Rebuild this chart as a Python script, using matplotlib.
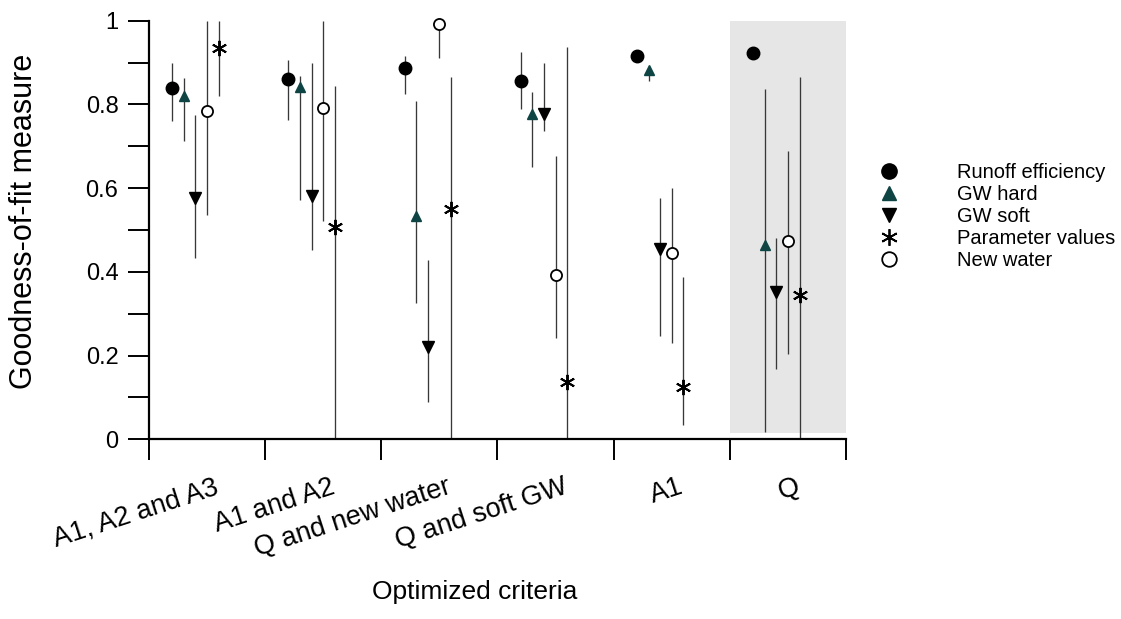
import matplotlib
matplotlib.use("Agg")
import matplotlib.pyplot as plt
import matplotlib.transforms as mtransforms
from matplotlib.lines import Line2D
import numpy as np

plt.rcParams['font.family'] = ['Liberation Sans', 'DejaVu Sans']

categories = ["A1, A2 and A3", "A1 and A2", "Q and new water", "Q and soft GW", "A1", "Q"]

# value, lower and upper end of the range for each criterion
runoff = [0.84, 0.86, 0.886, 0.856, 0.916, 0.922]
runoff_lo = [0.76, 0.763, 0.824, 0.788, 0.916, 0.922]
runoff_hi = [0.90, 0.906, 0.916, 0.926, 0.916, 0.922]

gw_hard = [0.82, 0.841, 0.534, 0.777, 0.882, 0.464]
gw_hard_lo = [0.713, 0.572, 0.326, 0.651, 0.857, 0.018]
gw_hard_hi = [0.862, 0.869, 0.808, 0.83, 0.882, 0.837]

gw_soft = [0.577, 0.582, 0.22, 0.776, 0.454, 0.353]
gw_soft_lo = [0.432, 0.453, 0.09, 0.737, 0.247, 0.168]
gw_soft_hi = [0.774, 0.898, 0.428, 0.9, 0.576, 0.48]

new_water = [0.784, 0.791, 0.991, 0.393, 0.444, 0.474]
new_water_lo = [0.536, 0.522, 0.91, 0.243, 0.229, 0.203]
new_water_hi = [1.0, 1.0, 1.0, 0.677, 0.6, 0.689]

params = [0.935, 0.508, 0.55, 0.136, 0.126, 0.345]
params_lo = [0.819, 0.0, 0.0, 0.0, 0.034, 0.0]
params_hi = [1.0, 0.845, 0.865, 0.937, 0.388, 0.865]

teal = '#0e4443'
star = (6, 2, 0)

fig = plt.figure(figsize=(11.21, 6.19), dpi=100)
ax = fig.add_axes([0.1329, 0.2903, 0.6218, 0.6763])

centers = np.arange(len(categories)) + 0.5

# grey box behind the last group
ax.axvspan(5, 6, ymin=0.015, ymax=1, color='#e6e6e6', lw=0, zorder=0)

series = [
    (runoff, runoff_lo, runoff_hi, -0.3, dict(marker='o', ms=9, mfc='black', mec='black')),
    (gw_hard, gw_hard_lo, gw_hard_hi, -0.2, dict(marker='^', ms=7.5, mfc=teal, mec=teal)),
    (gw_soft, gw_soft_lo, gw_soft_hi, -0.1, dict(marker='v', ms=8.5, mfc='black', mec='black')),
    (new_water, new_water_lo, new_water_hi, 0.0, dict(marker='o', ms=8, mfc='white', mec='black', mew=1.3)),
    (params, params_lo, params_hi, 0.1, dict(marker=star, ms=11, mfc='black', mec='black', mew=1.4)),
]

for vals, lo, hi, off, style in series:
    vals = np.array(vals)
    yerr = [vals - np.array(lo), np.array(hi) - vals]
    ax.errorbar(centers + off, vals, yerr=yerr, fmt='none', ecolor='#383838',
                elinewidth=0.95, capsize=0, zorder=2, clip_on=False)
    ax.plot(centers + off, vals, ls='none', zorder=3, clip_on=False, **style)

ax.set_xlim(0, 6)
ax.set_ylim(0, 1)

for s in ['top', 'right']:
    ax.spines[s].set_visible(False)
for s in ['left', 'bottom']:
    ax.spines[s].set_linewidth(1.6)

ax.set_yticks([0, 0.2, 0.4, 0.6, 0.8, 1.0])
ax.set_yticklabels(['0', '0.2', '0.4', '0.6', '0.8', '1'])
ax.set_yticks(np.arange(0.1, 1.0, 0.2), minor=True)
ax.tick_params(axis='y', which='both', direction='out', length=15, width=1.4,
               labelsize=17, pad=7)

ax.set_xticks(np.arange(0, 7))
ax.set_xticklabels([])
ax.set_xticks(centers, minor=True)
ax.set_xticklabels(categories, minor=True, rotation=18, ha='right', va='top',
                   rotation_mode='anchor', fontsize=19.5)
ax.tick_params(axis='x', which='major', direction='out', length=15, width=1.4)
ax.tick_params(axis='x', which='minor', length=0, pad=25)

shift = mtransforms.ScaledTranslation(7 / 100, 0, fig.dpi_scale_trans)
for lab in ax.get_xticklabels(minor=True):
    lab.set_transform(lab.get_transform() + shift)

fig.text(475 / 1121, 1 - 592 / 619, 'Optimized criteria', fontsize=19,
         ha='center', va='center')
fig.text(24 / 1121, 1 - 221 / 619, 'Goodness-of-fit measure', fontsize=22,
         rotation=90, ha='center', va='center')

handles = [
    Line2D([], [], ls='none', marker='o', ms=11, mfc='black', mec='black'),
    Line2D([], [], ls='none', marker='^', ms=9.5, mfc=teal, mec=teal),
    Line2D([], [], ls='none', marker='v', ms=10, mfc='black', mec='black'),
    Line2D([], [], ls='none', marker=star, ms=12, mec='black', mew=1.3),
    Line2D([], [], ls='none', marker='o', ms=10.5, mfc='white', mec='black', mew=1.3),
]
labels = ['Runoff efficiency', 'GW hard', 'GW soft', 'Parameter values', 'New water']
fig.legend(handles, labels, loc='upper left', bbox_to_anchor=(869 / 1121, 1 - 163 / 619),
           frameon=False, fontsize=14.5, handlelength=2, handletextpad=2.35,
           labelspacing=0.15, borderpad=0, borderaxespad=0)

fig.savefig('out.png', dpi=100)
